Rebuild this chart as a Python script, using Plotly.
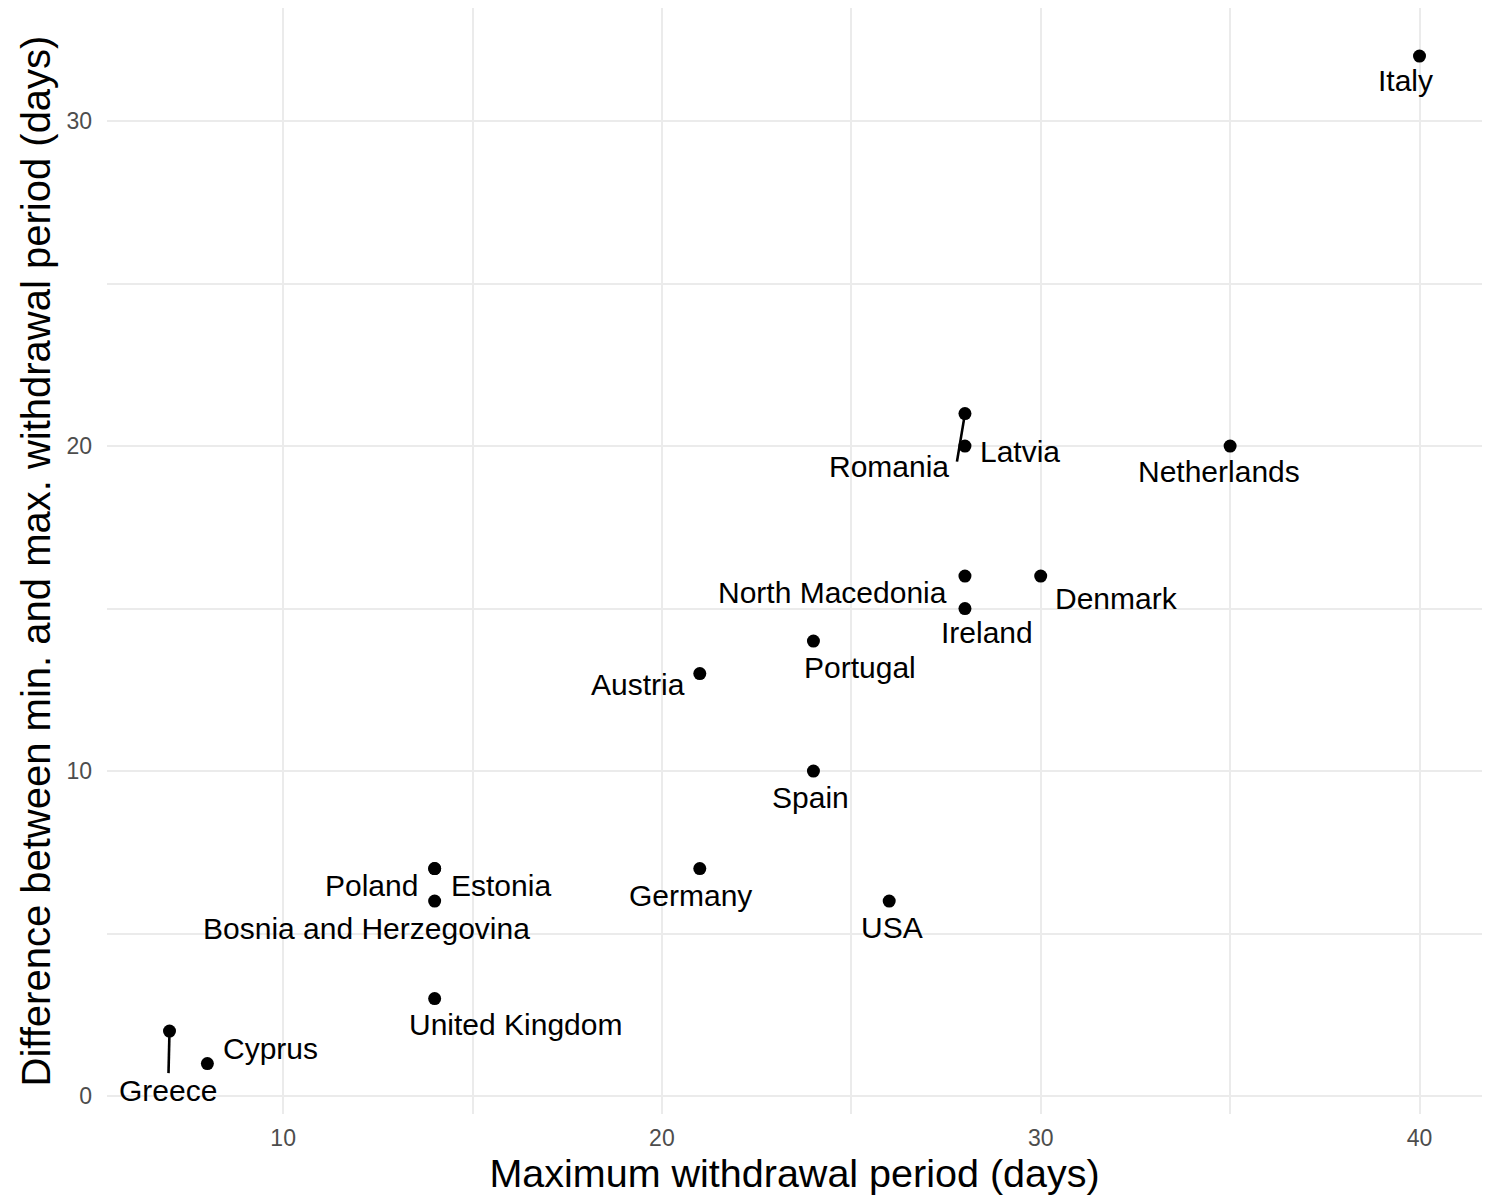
import plotly.graph_objects as go

countries = ["Italy", "Netherlands", "Romania", "Latvia", "North Macedonia", "Ireland",
             "Denmark", "Portugal", "Austria", "Spain", "Germany", "USA", "Poland",
             "Estonia", "Bosnia and Herzegovina", "United Kingdom", "Greece", "Cyprus"]
max_period = [40, 35, 28, 28, 28, 28, 30, 24, 21, 24, 21, 26, 14, 14, 14, 14, 7, 8]
difference = [32, 20, 21, 20, 16, 15, 16, 14, 13, 10, 7, 6, 7, 7, 6, 3, 2, 1]

# label offsets in pixels (style, repel-like placement; dy positive = down)
label_dx = [-14, -11, -76, 55, -132, 22, 76, 47, -62, -3, -9, 3, -63, 66, -68, 81, -2, 63]
label_dy = [24, 25, 53, 5, 16, 24, 22, 26, 11, 26, 27, 26, 17, 17, 27, 26, 59, -15]
# repel segments: pixel end offsets (None = no segment)
seg_dx = [None, None, -8, None, None, None, None, None, None, None,
          None, None, None, None, None, None, -1, None]
seg_dy = [None, None, 48, None, None, None, None, None, None, None,
          None, None, None, None, None, None, 42, None]

FONT = "Liberation Sans, Arial, sans-serif"

fig = go.Figure()
fig.add_trace(go.Scatter(
    x=max_period, y=difference, mode="markers",
    marker=dict(color="black", size=13),
    hoverinfo="text", text=countries, showlegend=False,
))

for c, xv, yv, dx, dy, sx, sy in zip(countries, max_period, difference,
                                     label_dx, label_dy, seg_dx, seg_dy):
    fig.add_annotation(
        x=xv, y=yv, xref="x", yref="y", text=c,
        showarrow=True, ax=dx, ay=dy, axref="pixel", ayref="pixel",
        arrowhead=0, arrowwidth=0.1, arrowcolor="rgba(0,0,0,0)",
        font=dict(family=FONT, size=30, color="black"),
        xanchor="center", yanchor="middle",
    )
    if sx is not None:
        fig.add_shape(
            type="line", xref="x", yref="y",
            xsizemode="pixel", ysizemode="pixel", xanchor=xv, yanchor=yv,
            x0=0, y0=0, x1=sx, y1=-sy,
            line=dict(color="black", width=2.6),
        )

grid = "#EBEBEB"
fig.update_layout(
    width=1483, height=1187,
    margin=dict(l=99, r=9, t=0, b=81),
    plot_bgcolor="white", paper_bgcolor="white",
    font=dict(family=FONT),
    xaxis=dict(
        range=[5.35, 41.65], tickvals=[10, 20, 30, 40],
        showgrid=True, gridcolor=grid, gridwidth=2,
        minor=dict(tickvals=[5, 15, 25, 35], showgrid=True, gridcolor=grid, gridwidth=1.5),
        zeroline=False, showline=False, ticks="",
        tickfont=dict(family=FONT, size=23, color="#4D4D4D"),
        ticklabelstandoff=8,
        title=dict(text="Maximum withdrawal period (days)",
                   font=dict(family=FONT, size=39.5, color="black"), standoff=0),
        automargin=False,
    ),
    yaxis=dict(
        range=[-0.55, 33.48], tickvals=[0, 10, 20, 30],
        showgrid=True, gridcolor=grid, gridwidth=2,
        minor=dict(tickvals=[5, 15, 25], showgrid=True, gridcolor=grid, gridwidth=1.5),
        zeroline=False, showline=False, ticks="",
        tickfont=dict(family=FONT, size=23, color="#4D4D4D"),
        ticklabelstandoff=14,
        title=dict(text="Difference between min. and max. withdrawal period (days)",
                   font=dict(family=FONT, size=40, color="black"), standoff=3),
        automargin=False,
    ),
)

fig.write_html("out.html")
